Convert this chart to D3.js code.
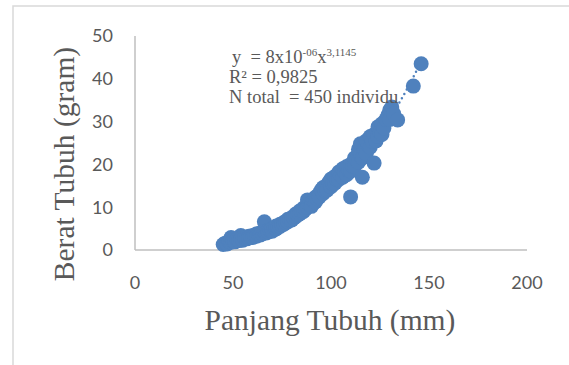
<!DOCTYPE html>
<html>
<head>
<meta charset="utf-8">
<script src="https://cdn.jsdelivr.net/npm/d3@7"></script>
<style>
  body { margin: 0; background: #fff; }
  svg { display: block; }
</style>
</head>
<body>
<div id="chart"></div>
<script>
// panjang tubuh (mm) and berat tubuh (gram)
const panjang = [
  45,46,47,48,49,49,50,51,52,53,54,54,55,56,57,58,58,59,60,60,
  61,62,62,63,64,64,65,66,66,67,68,68,69,70,70,71,72,72,73,74,74,75,76,76,77,78,78,79,80,80,
  81,82,82,83,84,84,85,86,86,87,88,88,89,90,90,
  91,92,92,93,94,94,95,96,96,97,98,98,99,100,100,101,102,102,103,104,104,105,106,106,107,108,108,109,110,110,110,
  111,112,112,113,114,114,115,115,116,116,117,118,118,119,120,120,121,122,122,123,124,124,125,126,126,127,128,129,130,130,131,132,134,
  142,146
];
const berat = [
  1.3,1.6,1.4,2.0,1.8,2.9,2.2,1.9,2.5,2.2,3.4,2.6,2.3,2.8,2.6,3.2,2.8,3.0,3.4,2.9,
  3.3,3.8,3.2,3.6,4.0,3.5,3.8,6.6,4.3,4.0,4.6,4.2,4.5,5.0,4.4,5.2,4.9,5.6,5.4,6.0,5.5,5.9,6.5,6.0,6.4,7.2,6.6,7.0,7.6,7.0,
  7.5,8.4,7.8,8.2,9.1,8.4,8.9,9.8,9.0,9.6,11.7,10.0,10.6,11.0,10.2,
  11.5,12.3,11.2,12.0,13.2,12.4,14.0,13.2,14.6,13.8,15.2,14.0,15.9,14.8,16.6,15.5,17.2,15.6,16.4,18.2,16.5,17.4,19.0,17.0,18.2,19.5,17.6,18.6,12.4,20.0,18.4,
  19.6,21.5,19.5,21.0,23.5,20.5,24.8,22.2,17.0,21.5,23.5,25.5,22.5,24.5,26.5,24.0,25.5,20.3,27.0,25.5,28.8,26.5,27.5,29.5,27.0,28.5,30.5,31.5,32.7,30.5,33.4,31.8,30.4,
  38.3,43.5
];

const xTicks = [0, 50, 100, 150, 200];
const yTicks = [0, 10, 20, 30, 40, 50];

// trendline y = a * x^b
const trendA = 8e-6, trendB = 3.1145;
const trendFrom = 45, trendTo = 146;

const W = 569, H = 365;
const svg = d3.select("#chart").append("svg")
    .attr("width", W)
    .attr("height", H);

// chart frame (cut by the image edges)
svg.append("rect")
    .attr("x", 13).attr("y", 6)
    .attr("width", W + 20).attr("height", H + 20)
    .attr("fill", "none")
    .attr("stroke", "#d9d9d9")
    .attr("stroke-width", 1.5);

const x = d3.scaleLinear().domain([0, 200]).range([135, 527]);
const y = d3.scaleLinear().domain([0, 50]).range([250, 36]);

const grey = "#595959";

// axes
svg.append("line")
    .attr("x1", x(0)).attr("x2", x(0))
    .attr("y1", y(0)).attr("y2", y(50))
    .attr("stroke", "#bfbfbf").attr("stroke-width", 1.5);
svg.append("line")
    .attr("x1", x(0)).attr("x2", x(200))
    .attr("y1", y(0)).attr("y2", y(0))
    .attr("stroke", "#bfbfbf").attr("stroke-width", 1.5);

svg.selectAll(".ytick")
    .data(yTicks)
    .enter()
    .append("text")
        .attr("class", "ytick")
        .attr("x", 113)
        .attr("y", d => y(d))
        .attr("dy", "0.36em")
        .attr("text-anchor", "end")
        .attr("font-family", "Lato, 'Open Sans', sans-serif")
        .attr("font-size", 18)
        .attr("fill", grey)
        .text(d => d);

svg.selectAll(".xtick")
    .data(xTicks)
    .enter()
    .append("text")
        .attr("class", "xtick")
        .attr("x", d => x(d))
        .attr("y", 289)
        .attr("text-anchor", "middle")
        .attr("font-family", "Lato, 'Open Sans', sans-serif")
        .attr("font-size", 18)
        .attr("fill", grey)
        .text(d => d);

// axis titles
svg.append("text")
    .attr("x", 330).attr("y", 330)
    .attr("text-anchor", "middle")
    .attr("font-family", "'Liberation Serif', 'Times New Roman', serif")
    .attr("font-size", 29.5)
    .attr("fill", grey)
    .text("Panjang Tubuh (mm)");

svg.append("text")
    .attr("transform", "translate(74,164) rotate(-90)")
    .attr("text-anchor", "middle")
    .attr("font-family", "'Liberation Serif', 'Times New Roman', serif")
    .attr("font-size", 29.5)
    .attr("fill", grey)
    .text("Berat Tubuh (gram)");

// trendline (dotted)
const trendX = d3.range(trendFrom, trendTo + 0.5, 1);
svg.append("path")
    .datum(trendX)
    .attr("fill", "none")
    .attr("stroke", "#4F81BD")
    .attr("stroke-width", 2.5)
    .attr("stroke-linecap", "round")
    .attr("stroke-dasharray", "0,5")
    .attr("d", d3.line().x(d => x(d)).y(d => y(trendA * Math.pow(d, trendB))));

// points
svg.selectAll(".pt")
    .data(panjang.map((p, i) => ({ p: p, b: berat[i] })))
    .enter()
    .append("circle")
        .attr("class", "pt")
        .attr("cx", d => x(d.p))
        .attr("cy", d => y(d.b))
        .attr("r", 7.5)
        .attr("fill", "#4F81BD");

// equation label
const eq = svg.append("g")
    .attr("font-family", "'Liberation Serif', 'Times New Roman', serif")
    .attr("fill", grey);

const l1 = eq.append("text").attr("x", 232).attr("y", 63).attr("font-size", 18.5);
l1.append("tspan").text("y\u00a0\u00a0= 8x10");
l1.append("tspan").attr("font-size", 11).attr("dy", -7).text("-06");
l1.append("tspan").attr("dy", 7).text("x");
l1.append("tspan").attr("font-size", 11).attr("dy", -7).text("3,1145");

eq.append("text").attr("x", 229).attr("y", 83).attr("font-size", 18.5)
    .text("R² = 0,9825");
eq.append("text").attr("x", 229).attr("y", 103).attr("font-size", 18.5)
    .text("N total\u00a0\u00a0= 450 individu");
</script>
</body>
</html>
